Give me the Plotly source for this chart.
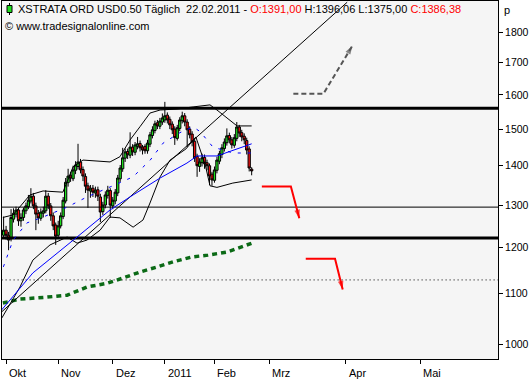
import plotly.graph_objects as go

# ---------------- data ----------------
bar_index = list(range(-1, 100))  # trading-day index (0 = 01.10.2010, 99 = 22.02.2011)

opens = [1228, 1240, 1228, 1220, 1266, 1278, 1288, 1262, 1270, 1286, 1296, 1310, 1322, 1298, 1280, 1268, 1280,
         1286, 1322, 1298, 1274, 1252, 1228, 1250, 1272, 1310, 1356, 1375, 1366, 1388, 1398, 1410, 1390, 1372,
         1348, 1335, 1342, 1330, 1338, 1320, 1284, 1300, 1324, 1336, 1298, 1310, 1330, 1366, 1392, 1420, 1438,
         1428, 1450, 1436, 1452, 1460, 1450, 1452, 1440, 1458, 1482, 1496, 1518, 1508, 1520, 1526, 1540, 1528,
         1514, 1500, 1474, 1502, 1524, 1538, 1520, 1500, 1486, 1466, 1425, 1398, 1408, 1422, 1408, 1400, 1378,
         1362, 1388, 1412, 1430, 1446, 1462, 1482, 1470, 1455, 1474, 1506, 1490, 1480, 1468, 1445, 1391]
highs = [1272, 1250, 1236, 1290, 1292, 1296, 1294, 1280, 1294, 1306, 1325, 1342, 1330, 1306, 1288, 1292, 1296,
         1337, 1330, 1305, 1282, 1258, 1262, 1282, 1320, 1368, 1392, 1384, 1400, 1412, 1459, 1418, 1398, 1380,
         1356, 1350, 1350, 1346, 1346, 1328, 1308, 1334, 1348, 1342, 1320, 1340, 1376, 1402, 1448, 1446, 1446,
         1491, 1458, 1464, 1478, 1468, 1456, 1458, 1470, 1492, 1508, 1524, 1526, 1532, 1545, 1579, 1548, 1536,
         1522, 1508, 1512, 1534, 1550, 1546, 1528, 1508, 1494, 1472, 1432, 1420, 1432, 1430, 1416, 1406, 1384,
         1398, 1424, 1440, 1458, 1474, 1502, 1490, 1478, 1486, 1520, 1512, 1498, 1488, 1476, 1452, 1396.06]
lows = [1222, 1218, 1194, 1214, 1258, 1270, 1250, 1248, 1262, 1278, 1290, 1304, 1290, 1240, 1255, 1262, 1270,
        1280, 1290, 1262, 1240, 1206, 1220, 1244, 1266, 1304, 1346, 1358, 1360, 1378, 1390, 1380, 1360, 1330,
        1293, 1318, 1320, 1318, 1310, 1259, 1276, 1292, 1316, 1269, 1290, 1302, 1322, 1358, 1384, 1410, 1418,
        1420, 1426, 1428, 1444, 1438, 1430, 1432, 1432, 1450, 1474, 1488, 1500, 1500, 1512, 1518, 1516, 1500,
        1486, 1456, 1468, 1494, 1516, 1508, 1450, 1474, 1452, 1410, 1371, 1384, 1398, 1392, 1388, 1350, 1348,
        1356, 1380, 1404, 1420, 1438, 1454, 1460, 1446, 1448, 1466, 1478, 1466, 1458, 1430, 1385, 1375]
closes = [1240, 1228, 1217, 1270, 1280, 1288, 1262, 1270, 1288, 1298, 1312, 1322, 1298, 1278, 1269, 1283, 1286,
          1322, 1298, 1274, 1250, 1226, 1250, 1274, 1312, 1357, 1373, 1368, 1389, 1402, 1410, 1389, 1373, 1347,
          1337, 1342, 1332, 1337, 1322, 1283, 1300, 1325, 1337, 1300, 1312, 1332, 1368, 1394, 1421, 1437, 1429,
          1450, 1437, 1456, 1459, 1448, 1442, 1440, 1461, 1484, 1498, 1515, 1509, 1523, 1532, 1538, 1526, 1512,
          1498, 1476, 1504, 1526, 1538, 1520, 1498, 1484, 1464, 1421, 1400, 1410, 1421, 1405, 1400, 1373, 1363,
          1389, 1415, 1432, 1448, 1464, 1481, 1470, 1456, 1476, 1506, 1489, 1478, 1470, 1442, 1394, 1386.38]

# Bollinger bands (upper / lower)
bb_up_x = [-1.3, 2.8, 9.6, 14.9, 22.9, 27, 31, 41.9, 45.9, 50, 54, 58, 62.1, 68.9, 75.4, 82.2, 85, 89, 93.1, 99]
bb_up_y = [1270, 1276, 1325, 1335, 1332, 1397, 1415, 1410, 1424, 1470, 1507, 1546, 1555, 1558, 1564, 1570,
           1555, 1532, 1509, 1509]
bb_lo_x = [-1.7, 5.6, 10.8, 17.7, 24.6, 28.6, 32.6, 37.9, 41.9, 45.9, 51.2, 55.2, 58, 62.1, 66.1, 72.5, 76.5,
           80.3, 82.2, 85, 91.4, 99]
bb_lo_y = [1051, 1114, 1172, 1206, 1224, 1210, 1217, 1240, 1271, 1269, 1247, 1264, 1305, 1371, 1415, 1445,
           1478, 1402, 1348, 1344, 1355, 1363]

# blue moving averages
ma_solid_x = [-1.8, 10.8, 28.6, 41.9, 51.2, 62.1, 72.9, 77, 85, 91.5, 99]
ma_solid_y = [1067, 1144, 1224, 1288, 1325, 1368, 1407, 1426, 1426, 1442, 1459]
ma_dash_x = [-1.1, 2.8, 8.4, 14.9, 24.6, 32.6, 41.9, 51.2, 58.1, 63.3, 70.1, 75.4, 78.2, 83.4, 91.5, 99]
ma_dash_y = [1157, 1217, 1257, 1271, 1295, 1320, 1345, 1371, 1415, 1461, 1490, 1506, 1493, 1450, 1434, 1434]

# long moving average (green, dotted)
ma_long_x = [-1.3, 5.6, 16.5, 24.6, 32.6, 40.7, 47.1, 54, 60.9, 67.3, 75, 81.4, 89.1, 95.5, 99.1]
ma_long_y = [1081, 1089, 1093, 1097, 1114, 1122, 1133, 1146, 1157, 1168, 1179, 1183, 1190, 1203, 1210]

# trend line
trend_x = [-1.8, 137.5]
trend_y = [1063, 1905]

# horizontal levels
level_thick = [1560, 1222]
level_thin = [1295]
level_dotted = [1129]

# drawn arrows (index, price)
red_arrow1_x = [103.1, 114.8, 118.2]
red_arrow1_y = [1346, 1346, 1268]
red_arrow2_x = [120.8, 132.6, 135.7]
red_arrow2_y = [1175, 1175, 1109]
gray_arrow_x = [115.8, 127.9, 139.6]
gray_arrow_y = [1603, 1603, 1755]

# axis ticks
month_pos = [0, 21, 43, 64, 84, 106, 137, 167]
month_labels = ["Okt", "Nov", "Dez", "2011", "Feb", "Mrz", "Apr", "Mai"]
price_ticks = [1000, 1100, 1200, 1300, 1400, 1500, 1600, 1700, 1800]

# ---------------- figure ----------------
W, H = 532, 380
ML, MR, MT, MB = 2, 34, 1, 21
PW, PH = W - ML - MR, H - MT - MB
X_RANGE = [-1.65, 198.3]
Y_RANGE = [2.988, 3.2809]
FONT = "Liberation Sans"


def px(xp):
    return (xp - ML) / PW


def py(yp):
    return 1 - (yp - MT) / PH


fig = go.Figure()

span = [X_RANGE[0] - 5, X_RANGE[1] + 5]
for lv in level_thick:
    fig.add_trace(go.Scatter(x=span, y=[lv, lv], mode="lines", line=dict(color="black", width=3),
                             hoverinfo="skip", showlegend=False))
for lv in level_thin:
    fig.add_trace(go.Scatter(x=span, y=[lv, lv], mode="lines", line=dict(color="black", width=1),
                             hoverinfo="skip", showlegend=False))
for lv in level_dotted:
    fig.add_trace(go.Scatter(x=span, y=[lv, lv], mode="lines",
                             line=dict(color="black", width=1, dash="1px,3px"),
                             hoverinfo="skip", showlegend=False))

fig.add_trace(go.Scatter(x=ma_long_x, y=ma_long_y, mode="lines",
                         line=dict(color="#0b6a16", width=3.5, dash="5px,4px"),
                         hoverinfo="skip", showlegend=False))

fig.add_trace(go.Candlestick(
    x=bar_index, open=opens, high=highs, low=lows, close=closes,
    increasing=dict(line=dict(color="black", width=1), fillcolor="#1ee01e"),
    decreasing=dict(line=dict(color="black", width=1), fillcolor="#f01010"),
    whiskerwidth=0, hoverinfo="skip", showlegend=False))

fig.add_trace(go.Scatter(x=bb_up_x, y=bb_up_y, mode="lines", line=dict(color="black", width=1),
                         hoverinfo="skip", showlegend=False))
fig.add_trace(go.Scatter(x=bb_lo_x, y=bb_lo_y, mode="lines", line=dict(color="black", width=1),
                         hoverinfo="skip", showlegend=False))
fig.add_trace(go.Scatter(x=trend_x, y=trend_y, mode="lines", line=dict(color="black", width=1),
                         hoverinfo="skip", showlegend=False))
fig.add_trace(go.Scatter(x=ma_solid_x, y=ma_solid_y, mode="lines", line=dict(color="#0000ff", width=1),
                         hoverinfo="skip", showlegend=False))
fig.add_trace(go.Scatter(x=ma_dash_x, y=ma_dash_y, mode="lines",
                         line=dict(color="#0000ff", width=1, dash="3px,7px"),
                         hoverinfo="skip", showlegend=False))

for ax_, ay_, col, dash in [(red_arrow1_x, red_arrow1_y, "#ff0000", "solid"),
                            (red_arrow2_x, red_arrow2_y, "#ff0000", "solid"),
                            (gray_arrow_x, gray_arrow_y, "#555555", "5px,3px")]:
    fig.add_trace(go.Scatter(x=ax_, y=ay_, mode="lines+markers",
                             line=dict(color=col, width=2, dash=dash),
                             marker=dict(symbol="arrow", size=[0, 0, 9], angleref="previous", color=col,
                                         line=dict(width=0)),
                             hoverinfo="skip", showlegend=False))

annotations = []
for pos, lab in zip(month_pos, month_labels):
    annotations.append(dict(x=pos, xref="x", y=0, yref="paper", text=lab, showarrow=False,
                            xanchor="left", yanchor="top", xshift=1, yshift=-6,
                            font=dict(family=FONT, size=11, color="black")))
header = ("XSTRATA ORD USD0.50 Täglich\u00a0\u00a022.02.2011 - "
          "<span style='color:#ff0000'>O:1391,00</span> H:1396,06 L:1375,00 "
          "<span style='color:#ff0000'>C:1386,38</span>")
annotations.append(dict(x=px(16), y=py(9.5), xref="paper", yref="paper", text=header, showarrow=False,
                        xanchor="left", yanchor="middle", font=dict(family=FONT, size=11, color="black")))
annotations.append(dict(x=px(3), y=py(26), xref="paper", yref="paper", text="© www.tradesignalonline.com",
                        showarrow=False, xanchor="left", yanchor="middle",
                        font=dict(family=FONT, size=11, color="black")))
annotations.append(dict(x=px(502), y=py(10), xref="paper", yref="paper", text="p", showarrow=False,
                        xanchor="left", yanchor="middle", font=dict(family=FONT, size=11, color="black")))

shapes = [
    dict(type="line", xref="paper", yref="paper", x0=px(9.5), x1=px(9.5), y0=py(3), y1=py(15),
         line=dict(color="black", width=1)),
    dict(type="rect", xref="paper", yref="paper", x0=px(7), x1=px(12), y0=py(5.5), y1=py(12.5),
         fillcolor="#1ee01e", line=dict(color="black", width=1)),
]

fig.update_layout(
    width=W, height=H,
    margin=dict(l=ML, r=MR, t=MT, b=MB, pad=0),
    paper_bgcolor="white", plot_bgcolor="#f5f5f5",
    showlegend=False, boxgap=0.08, boxgroupgap=0,
    annotations=annotations, shapes=shapes,
    xaxis=dict(range=X_RANGE, tickvals=month_pos, showticklabels=False, ticks="outside", ticklen=4,
               tickcolor="black", showline=True, linecolor="black", linewidth=1, mirror=True,
               showgrid=False, zeroline=False, rangeslider=dict(visible=False), fixedrange=True),
    yaxis=dict(type="log", range=Y_RANGE, side="right", tickvals=price_ticks,
               ticktext=[str(t) for t in price_ticks], ticks="outside", ticklen=4, tickcolor="black",
               showline=True, linecolor="black", linewidth=1, mirror=True, showgrid=False, zeroline=False,
               tickfont=dict(family=FONT, size=10.5, color="black"), fixedrange=True),
)

fig.write_html("out.html", config={"displayModeBar": False},
               post_script="document.body.style.margin='0';document.body.style.padding='0';")
